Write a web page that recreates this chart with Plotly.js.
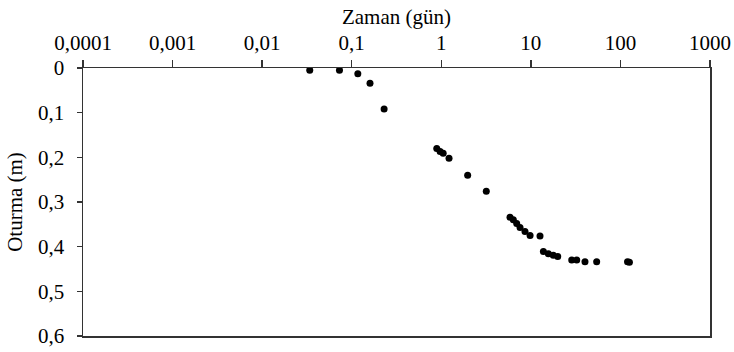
<!DOCTYPE html>
<html>
<head>
<meta charset="utf-8">
<script src="https://cdn.plot.ly/plotly-3.0.1.min.js"></script>
<style>
  html, body { margin: 0; padding: 0; background: #fff; }
  #chart { width: 734px; height: 352px; }
</style>
</head>
<body>
<div id="chart"></div>
<script>
// Settlement (m) against time (days), log time axis
const timeDays = [0.034, 0.073, 0.117, 0.16, 0.23,
  0.89, 0.97, 1.05, 1.22, 1.97, 3.18,
  5.85, 6.37, 6.95, 7.57, 8.6, 9.8, 12.65,
  13.8, 15.7, 17.8, 19.95, 28.6, 32.5, 40.2, 54.3, 120, 126];
const settlement = [0.005, 0.005, 0.013, 0.034, 0.092,
  0.18, 0.187, 0.191, 0.202, 0.24, 0.276,
  0.334, 0.340, 0.348, 0.357, 0.366, 0.375, 0.376,
  0.411, 0.416, 0.419, 0.422, 0.430, 0.430, 0.434, 0.434, 0.434, 0.435];

const xTickVals = [0.0001, 0.001, 0.01, 0.1, 1, 10, 100, 1000];
const xTickText = ['0,0001', '0,001', '0,01', '0,1', '1', '10', '100', '1000'];
const yTickVals = [0, 0.1, 0.2, 0.3, 0.4, 0.5, 0.6];
const yTickText = ['0', '0,1', '0,2', '0,3', '0,4', '0,5', '0,6'];

const serif = "'Liberation Serif', 'Times New Roman', serif";
const tickFont = { family: serif, size: 21, color: '#000' };
const titleFont = { family: serif, size: 21, color: '#000' };
const lineColor = '#333';

const trace = {
  x: timeDays,
  y: settlement,
  type: 'scatter',
  mode: 'markers',
  marker: { color: '#000', size: 7 },
  hoverinfo: 'skip'
};

const layout = {
  width: 734,
  height: 352,
  margin: { l: 83, r: 24, t: 68, b: 16 },
  paper_bgcolor: '#fff',
  plot_bgcolor: '#fff',
  font: tickFont,
  showlegend: false,
  xaxis: {
    type: 'log',
    side: 'top',
    range: [-4, 3],
    tickvals: xTickVals,
    ticktext: xTickText,
    ticks: 'outside',
    ticklen: 7,
    tickwidth: 1.5,
    tickcolor: lineColor,
    showline: true,
    linecolor: lineColor,
    linewidth: 1.5,
    mirror: true,
    showgrid: false,
    zeroline: false,
    automargin: false,
    tickfont: tickFont,
    ticklabelstandoff: 1,
    title: { text: 'Zaman (gün)', font: titleFont, standoff: 0 }
  },
  yaxis: {
    range: [0.6, 0],
    tickvals: yTickVals,
    ticktext: yTickText,
    ticks: 'outside',
    ticklen: 5,
    tickwidth: 1.5,
    tickcolor: lineColor,
    showline: true,
    linecolor: lineColor,
    linewidth: 1.5,
    mirror: true,
    showgrid: false,
    zeroline: false,
    automargin: false,
    tickfont: tickFont,
    ticklabelstandoff: 8,
    title: { text: 'Oturma (m)', font: titleFont, standoff: 9 }
  }
};

Plotly.newPlot('chart', [trace], layout, { staticPlot: true, displayModeBar: false });
</script>
</body>
</html>
